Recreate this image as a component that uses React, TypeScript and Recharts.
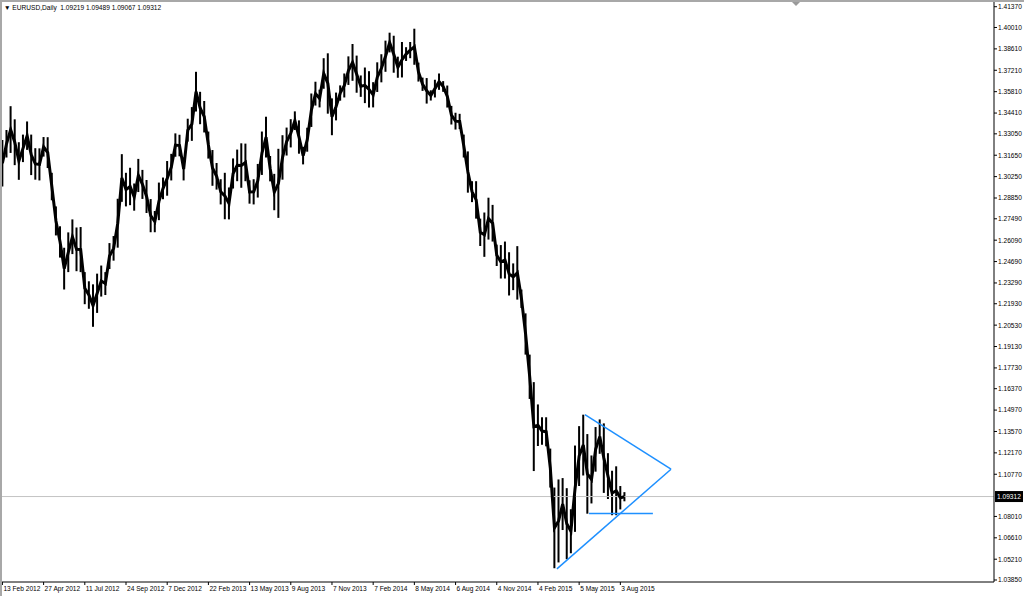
import React from "react";
import { ComposedChart, Bar, Line, XAxis, YAxis, ReferenceLine } from "recharts";

// one slot ~ 1/10 of the spacing between two date labels on the time axis
const lows = [
  1.296, 1.315, 1.318, 1.31, 1.3004, 1.312, 1.32, 1.3035, 1.3005, 1.3,
  1.3156, 1.3081, 1.287, 1.264, 1.2495, 1.2287, 1.24, 1.2518, 1.2406, 1.24,
  1.219, 1.216, 1.2042, 1.2133, 1.224, 1.225, 1.242, 1.2475, 1.256, 1.286,
  1.283, 1.2838, 1.2802, 1.2924, 1.2879, 1.2787, 1.2661, 1.2661, 1.274, 1.2877,
  1.29, 1.3, 1.3155, 1.3158, 1.3, 1.3254, 1.3259, 1.3451, 1.3368, 1.3314,
  1.3143, 1.2965, 1.294, 1.2843, 1.2746, 1.2745, 1.2947, 1.2995, 1.2952, 1.2995,
  1.2848, 1.2843, 1.2888, 1.3036, 1.315, 1.2994, 1.2805, 1.2755, 1.3005, 1.3163,
  1.3216, 1.333, 1.3175, 1.3105, 1.3188, 1.335, 1.349, 1.3478, 1.36, 1.3437,
  1.3296, 1.3393, 1.3522, 1.3543, 1.3625, 1.3652, 1.3574, 1.3547, 1.3506, 1.3477,
  1.3478, 1.3579, 1.3642, 1.3711, 1.3838, 1.3705, 1.3672, 1.3674, 1.3782, 1.38,
  1.3757, 1.3647, 1.3586, 1.3503, 1.3523, 1.3543, 1.3593, 1.358, 1.3477, 1.3366,
  1.3333, 1.3336, 1.315, 1.292, 1.2858, 1.275, 1.2571, 1.25, 1.2613, 1.26,
  1.244, 1.2358, 1.2358, 1.2247, 1.2282, 1.222, 1.2165, 1.186, 1.157, 1.1098,
  1.1262, 1.127, 1.126, 1.099, 1.0462, 1.05, 1.0712, 1.0521, 1.056, 1.07,
  1.1, 1.1069, 1.0819, 1.0886, 1.1094, 1.1211, 1.0955, 1.0915, 1.0809, 1.0809,
  1.0847, 1.09,
];

const highs = [
  1.3265, 1.333, 1.3486, 1.34, 1.325, 1.33, 1.3386, 1.33, 1.3211, 1.321,
  1.3284, 1.3283, 1.305, 1.283, 1.27, 1.256, 1.266, 1.2745, 1.2692, 1.2695,
  1.24, 1.234, 1.232, 1.239, 1.2443, 1.24, 1.259, 1.2636, 1.288, 1.3172,
  1.305, 1.3083, 1.298, 1.3141, 1.3069, 1.3003, 1.2878, 1.28, 1.2986, 1.3019,
  1.3127, 1.3174, 1.3308, 1.3299, 1.315, 1.3404, 1.348, 1.3711, 1.358, 1.352,
  1.332, 1.3199, 1.3114, 1.3008, 1.305, 1.2954, 1.3144, 1.3202, 1.3243, 1.3241,
  1.3001, 1.3008, 1.3108, 1.332, 1.3417, 1.316, 1.3043, 1.3207, 1.3296, 1.3346,
  1.3401, 1.3452, 1.3393, 1.322, 1.3345, 1.3569, 1.3646, 1.3594, 1.38, 1.3832,
  1.3537, 1.3575, 1.3622, 1.37, 1.3812, 1.3893, 1.3817, 1.3687, 1.3739, 1.3715,
  1.3643, 1.3773, 1.3826, 1.3915, 1.3967, 1.3947, 1.381, 1.3906, 1.3872, 1.3906,
  1.3993, 1.3771, 1.3673, 1.367, 1.359, 1.3659, 1.37, 1.365, 1.3621, 1.3488,
  1.3443, 1.3436, 1.33, 1.319, 1.2995, 1.2995, 1.275, 1.279, 1.2887, 1.284,
  1.258, 1.2577, 1.26, 1.253, 1.2457, 1.257, 1.2286, 1.213, 1.186, 1.168,
  1.1534, 1.145, 1.145, 1.1245, 1.099, 1.1043, 1.1052, 1.0986, 1.0848, 1.1265,
  1.1392, 1.1467, 1.134, 1.12, 1.1386, 1.1436, 1.141, 1.1215, 1.11, 1.1129,
  1.1, 1.096,
];

const dateLabels = [
  "13 Feb 2012", "27 Apr 2012", "11 Jul 2012", "24 Sep 2012", "7 Dec 2012",
  "22 Feb 2013", "13 May 2013", "9 Aug 2013", "7 Nov 2013", "7 Feb 2014",
  "8 May 2014", "6 Aug 2014", "4 Nov 2014", "4 Feb 2015", "5 May 2015",
  "3 Aug 2015",
];

const priceTicks = [
  1.4137, 1.4001, 1.3861, 1.3721, 1.3581, 1.3441, 1.3305, 1.3165, 1.3025,
  1.2885, 1.2749, 1.2609, 1.2469, 1.2329, 1.2193, 1.2053, 1.1913, 1.1773,
  1.1637, 1.1497, 1.1357, 1.1217, 1.1077, 1.0801, 1.0661, 1.0521, 1.0385,
];

// last daily bar: open, high, low, close
const lastBar = [1.09219, 1.09489, 1.09067, 1.09312];

// hand drawn objects (slot, price)
const lowerTrend = [
  [134.6, 1.0458],
  [162.3, 1.111],
];
const upperTrend = [
  [141.4, 1.1467],
  [162.3, 1.111],
];
const supportLine = [
  [142.4, 1.082],
  [157.9, 1.082],
];

const SLOTS_PER_LABEL = 10;
const BLUE = "#1e90ff";
const FONT = "'Liberation Sans', Arial, sans-serif";

const data = lows.map((lo, i) => ({
  slot: i,
  range: [lo, highs[i]],
  mid: (lo + highs[i]) / 2,
}));
const timeTicks = dateLabels.map((_, i) => i * SLOTS_PER_LABEL);

const toSegment = (pts: number[][]) => pts.map(([x, y]) => ({ x, y }));

function TimeTick({ x, y, payload }: any) {
  const label = dateLabels[Math.round(payload.value / SLOTS_PER_LABEL)];
  return (
    <text x={x + 1} y={y} dy={4.5} fontSize={6.6} fontFamily={FONT} fill="#000">
      {label}
    </text>
  );
}

function PriceTick({ x, y, payload }: any) {
  return (
    <text x={x} y={y} dy={2.4} fontSize={6.6} fontFamily={FONT} fill="#000">
      {payload.value.toFixed(5)}
    </text>
  );
}

function PriceTag({ viewBox }: any) {
  const x = viewBox.x + viewBox.width + 1;
  const y = viewBox.y;
  return (
    <g>
      <rect x={x} y={y - 5.5} width={28} height={11} fill="#000" />
      <text x={x + 2} y={y} dy={2.4} fontSize={6.6} fontFamily={FONT} fill="#fff">
        {lastBar[3].toFixed(5)}
      </text>
    </g>
  );
}

export default function App() {
  return (
    <div
      style={{
        position: "absolute",
        left: 0,
        top: 0,
        width: 1024,
        height: 596,
        background: "#fff",
        overflow: "hidden",
      }}
    >
      <ComposedChart
        width={1024}
        height={596}
        data={data}
        margin={{ top: 2, right: 0, bottom: 0, left: 2 }}
      >
        <XAxis
          type="number"
          dataKey="slot"
          domain={[-0.1, 240.7]}
          allowDataOverflow
          ticks={timeTicks}
          interval={0}
          height={14}
          tickSize={3}
          tickMargin={1}
          axisLine={{ stroke: "#000" }}
          tickLine={{ stroke: "#000" }}
          tick={<TimeTick />}
        />
        <YAxis
          type="number"
          orientation="right"
          domain={[1.03719, 1.41678]}
          allowDataOverflow
          ticks={priceTicks}
          interval={0}
          width={30}
          tickSize={3}
          tickMargin={1}
          axisLine={{ stroke: "#000" }}
          tickLine={{ stroke: "#000" }}
          tick={<PriceTick />}
        />
        <ReferenceLine
          y={lastBar[3]}
          stroke="#c4c4c4"
          strokeWidth={1}
          label={<PriceTag />}
        />
        <Bar dataKey="range" fill="#000" barSize={2} isAnimationActive={false} />
        <Line
          dataKey="mid"
          type="linear"
          stroke="#000"
          strokeWidth={3}
          dot={false}
          isAnimationActive={false}
        />
        <ReferenceLine segment={toSegment(lowerTrend)} stroke={BLUE} strokeWidth={1.5} />
        <ReferenceLine segment={toSegment(upperTrend)} stroke={BLUE} strokeWidth={1.5} />
        <ReferenceLine segment={toSegment(supportLine)} stroke={BLUE} strokeWidth={1.5} />
      </ComposedChart>

      {/* window frame */}
      <div style={{ position: "absolute", left: 0, top: 0, width: 1024, height: 2, background: "#a8a8a8" }} />
      <div style={{ position: "absolute", left: 0, top: 0, width: 2, height: 596, background: "#a8a8a8" }} />
      {/* chart shift marker */}
      <div
        style={{
          position: "absolute",
          left: 792,
          top: 2,
          width: 0,
          height: 0,
          borderLeft: "4px solid transparent",
          borderRight: "4px solid transparent",
          borderTop: "4px solid #9a9a9a",
        }}
      />
      <div
        style={{
          position: "absolute",
          left: 4,
          top: 3,
          fontFamily: FONT,
          fontSize: 6.6,
          lineHeight: "9px",
          color: "#000",
          whiteSpace: "pre",
        }}
      >
        {"\u25BC EURUSD,Daily  " + lastBar.map((v) => v.toFixed(5)).join(" ")}
      </div>
    </div>
  );
}
